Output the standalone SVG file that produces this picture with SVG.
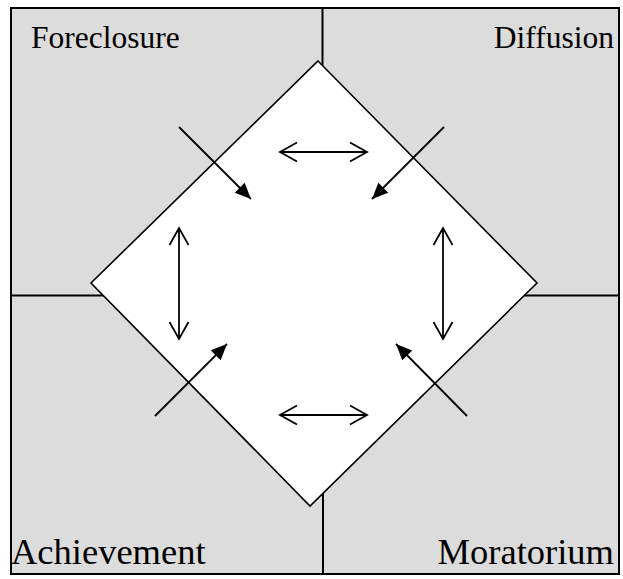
<svg xmlns="http://www.w3.org/2000/svg" width="623" height="579" viewBox="0 0 623 579">
<style>
.bg{fill:#ffffff}
.quad{fill:#dcdcdc;stroke:#000;stroke-width:2}
.div{stroke:#000;stroke-width:2;fill:none}
.dia{fill:#ffffff;stroke:#000;stroke-width:1.6}
.arr{stroke:#000;stroke-width:1.8;fill:none}
.lbl{font-family:"Liberation Serif","Times New Roman",serif;font-size:31.5px;fill:#000}
.lbl2{font-family:"Liberation Serif","Times New Roman",serif;font-size:36.5px;fill:#000}
</style>
<defs>
<marker id="fh" markerUnits="userSpaceOnUse" markerWidth="20" markerHeight="16" viewBox="-18 -8 20 16" refX="0" refY="0" orient="auto">
<path d="M0,0 L-16,-7 L-16,7 Z" fill="#000"/>
</marker>
<marker id="oh" markerUnits="userSpaceOnUse" markerWidth="22" markerHeight="24" viewBox="-20 -12 22 24" refX="0" refY="0" orient="auto-start-reverse">
<path d="M-17,-9.5 L0,0 L-17,9.5" fill="none" stroke="#000" stroke-width="1.8"/>
</marker>
</defs>
<rect class="bg" x="0" y="0" width="623" height="579"/>
<g id="quadrants">
<rect class="quad" x="11" y="8" width="608" height="566"/>
<line class="div" x1="322.5" y1="8" x2="322.5" y2="100"/>
<line class="div" x1="323" y1="460" x2="323" y2="574"/>
<line class="div" x1="11" y1="295.5" x2="150" y2="295.5"/>
<line class="div" x1="480" y1="295.5" x2="619" y2="295.5"/>
</g>
<g id="center">
<polygon class="dia" points="318,61 537,283 310,506 91,283"/>
</g>
<g id="label-foreclosure"><text class="lbl" x="31" y="48">Foreclosure</text></g>
<g id="label-diffusion"><text class="lbl" x="614" y="48" text-anchor="end">Diffusion</text></g>
<g id="label-achievement"><text class="lbl2" x="11" y="564">Achievement</text></g>
<g id="label-moratorium"><text class="lbl2" x="614" y="564" text-anchor="end">Moratorium</text></g>
<g id="connectors">
<line class="arr" x1="179" y1="127" x2="251" y2="199" marker-end="url(#fh)"/>
<line class="arr" x1="444" y1="127" x2="372" y2="199" marker-end="url(#fh)"/>
<line class="arr" x1="155" y1="416" x2="227" y2="344" marker-end="url(#fh)"/>
<line class="arr" x1="467" y1="416" x2="396" y2="344" marker-end="url(#fh)"/>
<line class="arr" x1="280" y1="152" x2="367" y2="152" marker-start="url(#oh)" marker-end="url(#oh)"/>
<line class="arr" x1="280" y1="415" x2="367" y2="415" marker-start="url(#oh)" marker-end="url(#oh)"/>
<line class="arr" x1="179" y1="228" x2="179" y2="339" marker-start="url(#oh)" marker-end="url(#oh)"/>
<line class="arr" x1="443" y1="228" x2="443" y2="339" marker-start="url(#oh)" marker-end="url(#oh)"/>
</g>
</svg>
